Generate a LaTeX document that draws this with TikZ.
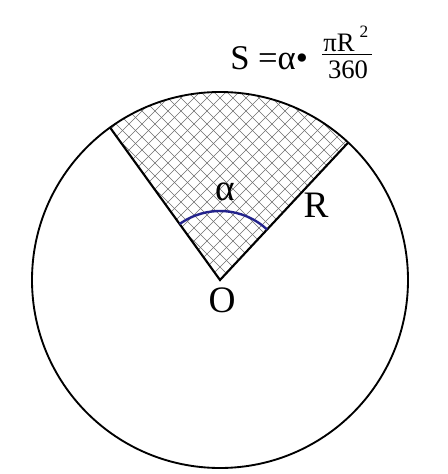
\documentclass[tikz,border=0pt]{standalone}
\usepackage{fontspec}
\setmainfont{Liberation Serif}
\usetikzlibrary{calc}
\definecolor{arcblue}{RGB}{35,35,140}
\definecolor{hatchgray}{RGB}{110,110,110}

\begin{document}
\begin{tikzpicture}[x=0.75pt,y=0.75pt,
  lbl/.style={inner sep=0, font=\fontsize{28}{30}\selectfont},
  frc/.style={inner sep=0, font=\fontsize{19}{21}\selectfont}]
\useasboundingbox (-220,-194) rectangle (227,280);
\coordinate (O) at (0,0);
\coordinate (A) at (125.8:188);
\coordinate (B) at (47:188);
% hatched sector
\begin{scope}
\clip (O) -- (B) arc[start angle=47, end angle=125.8, radius=188] -- cycle;
\foreach \k in {-26,...,26} {
 \draw[hatchgray, line width=0.5pt] (13*\k-220,-220) -- (13*\k+220,220);
 \draw[hatchgray, line width=0.5pt] (13*\k+220,-220) -- (13*\k-220,220);
};
\end{scope}
\draw[black, line width=1.4pt] (O) circle (188);
\draw[black, line width=1.6pt] (A) -- (O) -- (B);
\draw[arcblue, line width=1.8pt] (O) ++(125.8:69) arc[start angle=125.8, end angle=47, radius=69];
\node[lbl] (alpha) at (5,88) {α};
\node[lbl] (rad) at (96,75) {R};
\node[lbl] (cen) at (2,-20) {O};
% formula
\node[lbl, anchor=west, font=\fontsize{26}{28}\selectfont] (form) at (10,222) {S =α•};
\coordinate (bl) at (102,226);
\coordinate (br) at (152,226);
\draw[black, line width=0.6pt] (bl) -- (br);
\node[frc, font=\fontsize{20}{22}\selectfont] (num) at (119,237) {πR};
\node[frc, font=\fontsize{13}{15}\selectfont] (pow) at (144,248) {2};
\node[frc, font=\fontsize{20}{22}\selectfont] (den) at (128,210) {360};
\end{tikzpicture}
\end{document}
